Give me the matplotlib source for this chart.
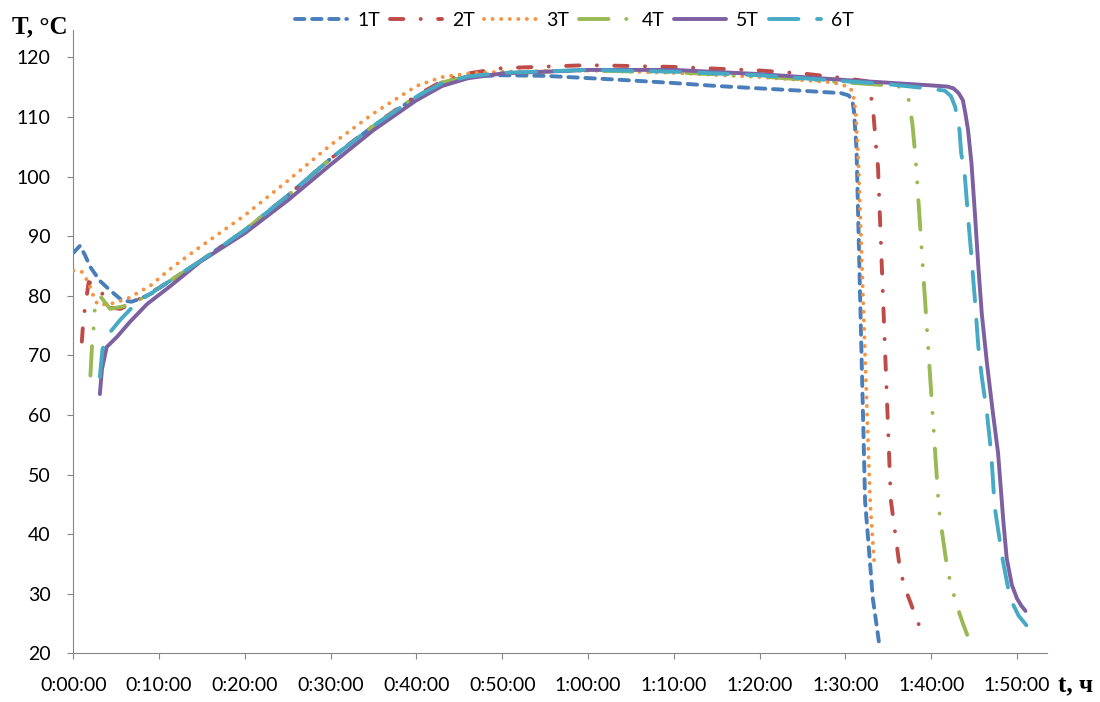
import matplotlib
matplotlib.use("Agg")
import matplotlib.pyplot as plt
from matplotlib.ticker import FuncFormatter, MultipleLocator

plt.rcParams['font.family'] = ['Lato', 'DejaVu Sans']
plt.rcParams['lines.scale_dashes'] = False

# ---- data: time in minutes, temperature in °C ----
t_1 = [0, 0.8, 1.4, 2.0, 3.1, 4.3, 5.7, 6.8, 7.8, 9.3, 10, 15, 20, 25, 30, 35, 40, 43, 46, 50,
       55, 63, 70, 75, 80, 85, 89.5, 90.4, 90.8, 91.0, 91.3, 91.8, 92.3, 92.9, 93.2, 93.9]
T_1 = [87.2, 88.4, 86.7, 84.8, 82.5, 80.9, 79.2, 79.0, 79.5, 80.5, 81.3, 86, 91, 96.8, 103, 108.5, 113.4, 115.8, 116.8, 117.0,
       116.9, 116.3, 115.7, 115.2, 114.8, 114.4, 114.0, 113.6, 112.8, 111.0, 104.6, 75, 45.5, 34.7, 29.2, 22.0]

t_2 = [1.0, 1.1, 1.3, 1.6, 1.8, 2.9, 4.3, 5.5, 7.0, 8.5, 10, 15, 20, 25, 30, 35, 40, 43, 46, 50,
       60, 70, 80, 85, 90, 92.5, 92.9, 93.3, 93.6, 93.8, 95.3, 96.4, 97.2, 98.4, 99.2]
T_2 = [72.3, 74.4, 77.3, 80.3, 82.3, 81.6, 78.0, 77.8, 78.8, 80.2, 81.3, 86, 91, 96.8, 103, 108.6, 113.6, 116.0, 117.3, 118.2,
       118.7, 118.4, 117.8, 117.3, 116.5, 116.0, 114.6, 110.0, 104.6, 101.7, 45.7, 33.7, 30.0, 25.4, 22.5]

t_3 = [0, 1.0, 1.75, 2.2, 2.5, 2.9, 4.3, 6.3, 9.0, 11.3, 14.4, 20, 25, 30, 35, 40, 43, 46, 50,
       60, 70, 80, 88.6, 90.5, 90.9, 91.2, 91.5, 92.2, 92.9, 93.4]
T_3 = [84.2, 84.0, 82.3, 80.6, 79.3, 78.5, 78.6, 79.5, 81.7, 84.5, 87.8, 93.5, 99.3, 105.3, 110.6, 115.2, 116.7, 117.3, 117.6,
       117.8, 117.4, 116.7, 115.8, 115.0, 114.0, 110.8, 103.4, 74, 45, 34.5]

t_4 = [2.0, 2.2, 2.4, 2.5, 3.1, 4.3, 5.8, 7.7, 10, 15, 20, 25, 30, 35, 40, 43, 46, 50,
       60, 70, 80, 90, 96, 96.8, 97.3, 97.8, 98.2, 100.9, 101.3, 101.9, 102.4, 103.0, 103.7, 104.2]
T_4 = [66.6, 72, 75, 77.5, 80, 77.8, 78.2, 79.3, 81.3, 86, 91, 96.8, 103, 108.5, 113.5, 115.8, 116.8, 117.4,
       117.8, 117.5, 116.8, 115.8, 115.2, 114.8, 113.6, 109, 102.8, 44.3, 40, 34, 31, 28, 25, 23.1]

t_5 = [3.1, 3.35, 3.9, 5.1, 6.6, 8.6, 11.3, 14.8, 20, 25, 30, 35, 40, 43, 46, 50,
       60, 70, 80, 90, 100, 101.9, 102.6, 103.2, 103.7, 104.0, 104.3, 104.7, 105.1, 105.5, 105.9,
       106.5, 107.2, 107.8, 108.4, 108.8, 109.4, 110.0, 110.5, 111.0]
T_5 = [63.5, 67.7, 71.4, 73.1, 75.6, 78.6, 81.6, 85.7, 90.5, 96, 102, 107.8, 112.8, 115.2, 116.5, 117.3,
       117.9, 117.9, 117.2, 116.2, 115.3, 115.1, 114.8, 114.0, 112.8, 110.5, 107.8, 102.2, 93.8, 84.9, 77.0,
       68.7, 60.3, 53.6, 42.4, 36.0, 31.5, 29.2, 28.0, 27.1]

t_6 = [3.1, 3.4, 4.3, 5.5, 6.7, 7.6, 9.3, 10, 15, 20, 25, 30, 35, 40, 43, 46, 50,
       60, 70, 80, 90, 95, 100.2, 101.6, 102.3, 102.8, 103.3, 103.5, 103.9, 104.4, 104.7, 105.1, 105.5,
       105.9, 106.5, 107.0, 107.4, 108.3, 109.2, 110.2, 111.1]
T_6 = [66.4, 71, 73.9, 76, 77.8, 79.1, 80.6, 81.3, 86, 91, 96.8, 103, 108.5, 113.4, 115.7, 116.8, 117.4,
       117.9, 117.6, 117.0, 116.0, 115.5, 114.7, 114.4, 113.5, 111.7, 107.8, 103.9, 100.5, 91.5, 86.5, 79.3, 71.4,
       66.4, 60.3, 53.6, 44.6, 36.0, 29.2, 26.3, 24.7]

labels = ['1T', '2T', '3T', '4T', '5T', '6T']
colors = ['#4A7EBB', '#BE4B48', '#F69240', '#98B954', '#7D60A0', '#46AAC5']
dashes = [(6.8, 5.5), (9.6, 12.5, 0.07, 12.5), (0.07, 6.1),
          (21.2, 12.8, 0.07, 12.8, 0.07, 12.8), None, (21.2, 13.4)]

series = [(t_1, T_1), (t_2, T_2), (t_3, T_3), (t_4, T_4), (t_5, T_5), (t_6, T_6)]


def hms(x, pos):
    m = int(round(x))
    return f"{m // 60}:{m % 60:02d}:00"


fig = plt.figure(figsize=(11, 7.02), dpi=100)
ax = fig.add_axes([0.0666, 0.0694, 0.8852, 0.8879])

for i, (tt, TT) in enumerate(series):
    line, = ax.plot(tt, TT, color=colors[i], lw=2.8, label=labels[i], zorder=2 + i,
                    solid_capstyle='round', solid_joinstyle='round',
                    dash_capstyle='round', dash_joinstyle='round')
    if dashes[i] is not None:
        line.set_dashes(dashes[i])

ax.set_xlim(0, 113.5)
ax.set_ylim(20, 124.6)
ax.xaxis.set_major_locator(MultipleLocator(10))
ax.xaxis.set_major_formatter(FuncFormatter(hms))
ax.set_yticks(range(20, 121, 10))

for s in ['top', 'right']:
    ax.spines[s].set_visible(False)
for s in ['left', 'bottom']:
    ax.spines[s].set_color('#868686')
    ax.spines[s].set_linewidth(0.8)
ax.tick_params(axis='both', direction='out', length=4.3, width=0.8, color='#868686',
               labelsize=14, labelcolor='black')
ax.tick_params(axis='x', pad=13)
ax.tick_params(axis='y', pad=12)

fig.legend(loc='center', bbox_to_anchor=(0.522, 0.971), ncol=6, frameon=False,
           handlelength=2.7, handletextpad=0.5, columnspacing=0.5, fontsize=14)

fig.text(0.011, 0.953, "T, °C", fontfamily='Liberation Serif', fontweight='bold',
         fontsize=18, ha='left', va='baseline')
fig.text(0.962, 0.0142, "t, ч", fontfamily='Liberation Serif', fontweight='bold',
         fontsize=18, ha='left', va='baseline')

fig.savefig('out.png', dpi=100)
